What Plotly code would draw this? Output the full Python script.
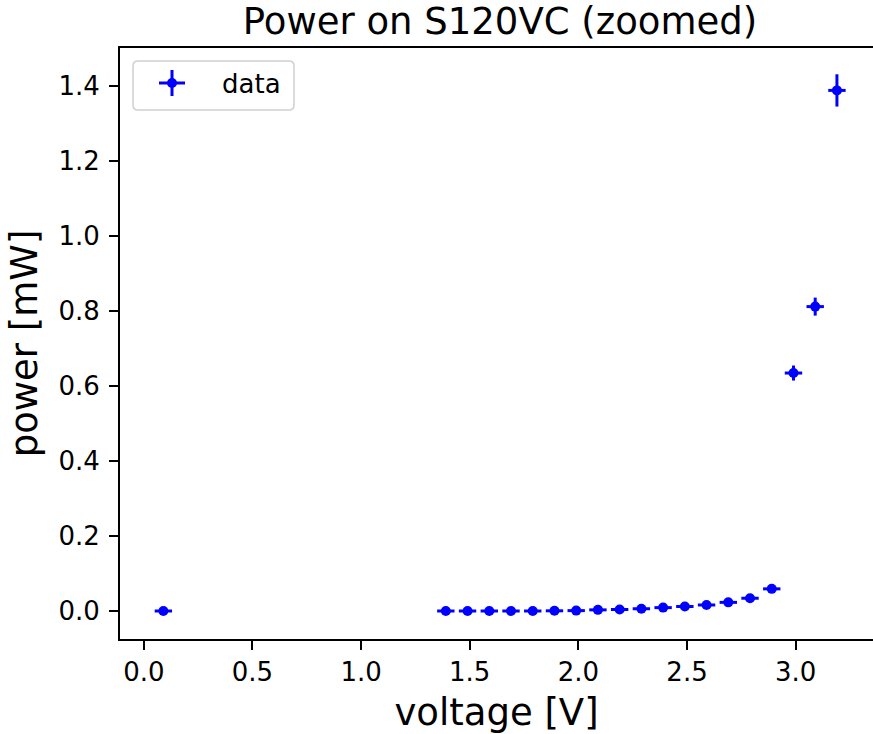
import plotly.graph_objects as go

# ---- data ----
voltage = [0.09, 1.39, 1.49, 1.59, 1.69, 1.79, 1.89, 1.99, 2.09, 2.19,
           2.29, 2.39, 2.49, 2.59, 2.69, 2.79, 2.89, 2.99, 3.09, 3.19]
power = [0.0, 0.0, 0.0, 0.0, 0.0, 0.0, 0.0005, 0.001, 0.003, 0.004,
         0.006, 0.009, 0.012, 0.016, 0.023, 0.034, 0.059, 0.634, 0.811, 1.387]
voltage_err = [0.04, 0.04, 0.04, 0.04, 0.04, 0.04, 0.04, 0.04, 0.04, 0.04,
               0.04, 0.04, 0.04, 0.04, 0.04, 0.04, 0.04, 0.04, 0.04, 0.04]
power_err = [0.001, 0.001, 0.001, 0.001, 0.001, 0.001, 0.001, 0.001, 0.001, 0.001,
             0.001, 0.002, 0.002, 0.002, 0.003, 0.004, 0.006, 0.020, 0.024, 0.043]
x_ticks = [0.0, 0.5, 1.0, 1.5, 2.0, 2.5, 3.0]
y_ticks = [0.0, 0.2, 0.4, 0.6, 0.8, 1.0, 1.2, 1.4]
series_name = "data"

W, H = 873, 734
ML, MR, MT, MB = 120, 0, 48, 95
PW, PH = W - ML - MR, H - MT - MB
BLUE = "#0000ff"
FONT = "DejaVu Sans"


def px(xp):
    return (xp - ML) / PW


def py(yp):
    return (H - MB - yp) / PH


fig = go.Figure()
fig.add_trace(go.Scatter(
    x=voltage, y=power, mode="markers", name=series_name,
    marker=dict(color=BLUE, size=10, line=dict(width=0)),
    error_x=dict(type="data", array=voltage_err, color=BLUE, thickness=3, width=0),
    error_y=dict(type="data", array=power_err, color=BLUE, thickness=3, width=0),
    showlegend=False,
))

# ---- custom legend (matplotlib-style box with errorbar glyph) ----
bx0, bx1, by0, by1, r = 133, 294, 61, 110, 5
rx, ry = r / PW, r / PH
X0, X1, Y0, Y1 = px(bx0), px(bx1), py(by1), py(by0)
path = (f"M {X0+rx},{Y0} L {X1-rx},{Y0} Q {X1},{Y0} {X1},{Y0+ry} "
        f"L {X1},{Y1-ry} Q {X1},{Y1} {X1-rx},{Y1} L {X0+rx},{Y1} "
        f"Q {X0},{Y1} {X0},{Y1-ry} L {X0},{Y0+ry} Q {X0},{Y0} {X0+rx},{Y0} Z")
shapes = [
    dict(type="path", path=path, xref="paper", yref="paper",
         fillcolor="rgba(255,255,255,0.8)", line=dict(color="#d0d0d0", width=1.5)),
    dict(type="line", xref="paper", yref="paper", x0=px(159), x1=px(185), y0=py(83), y1=py(83),
         line=dict(color=BLUE, width=3)),
    dict(type="line", xref="paper", yref="paper", x0=px(172), x1=px(172), y0=py(70), y1=py(96),
         line=dict(color=BLUE, width=3)),
    dict(type="circle", xref="paper", yref="paper", x0=px(167), x1=px(177), y0=py(88), y1=py(78),
         fillcolor=BLUE, line=dict(width=0)),
]
annotations = [
    dict(text=series_name, xref="paper", yref="paper", x=px(220), y=py(84),
         xanchor="left", yanchor="middle", showarrow=False,
         font=dict(family=FONT, size=26, color="black")),
]

axis_common = dict(
    showgrid=False, zeroline=False, showline=True, linecolor="black", linewidth=2,
    ticks="outside", ticklen=9, tickwidth=2, tickcolor="black",
    tickfont=dict(family=FONT, size=26, color="black"),
)

fig.update_layout(
    width=W, height=H, autosize=False,
    margin=dict(l=ML, r=MR, t=MT, b=MB, pad=0),
    paper_bgcolor="white", plot_bgcolor="white",
    font=dict(family=FONT, color="black"),
    title=dict(text="Power on S120VC (zoomed)", x=px(500), xref="paper", xanchor="center",
               y=1 - 21 / H, yref="container", yanchor="middle",
               font=dict(family=FONT, size=37, color="black")),
    xaxis=dict(range=[-0.1096, 3.356], tickvals=x_ticks, tickformat=".1f", mirror=True,
               title=dict(text="voltage [V]", font=dict(family=FONT, size=37, color="black"),
                          standoff=14),
               **axis_common),
    yaxis=dict(range=[-0.0746, 1.500], tickvals=y_ticks, tickformat=".1f",
               ticklabelstandoff=4,
               title=dict(text="power [mW]", font=dict(family=FONT, size=37, color="black"),
                          standoff=9),
               **axis_common),
    shapes=shapes, annotations=annotations,
)

fig.write_html("out.html")
